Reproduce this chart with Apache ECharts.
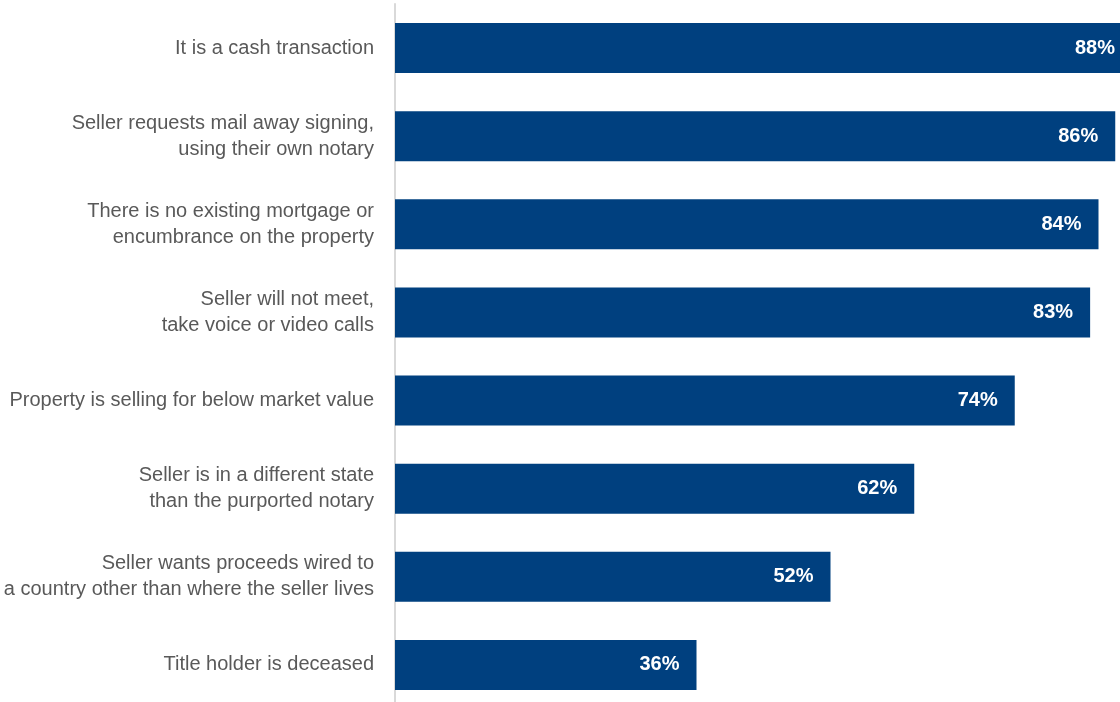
<!DOCTYPE html>
<html>
<head>
<meta charset="utf-8">
<script src="https://cdn.jsdelivr.net/npm/echarts@6/dist/echarts.min.js"></script>
<style>
  html, body { margin: 0; padding: 0; background: #ffffff; }
  #chart { width: 1120px; height: 702px; }
</style>
</head>
<body>
<div id="chart"></div>
<script>
// Survey responses: warning signs of seller impersonation fraud
const categories = [
  'It is a cash transaction',
  'Seller requests mail away signing,\nusing their own notary',
  'There is no existing mortgage or\nencumbrance on the property',
  'Seller will not meet,\ntake voice or video calls',
  'Property is selling for below market value',
  'Seller is in a different state\nthan the purported notary',
  'Seller wants proceeds wired to\na country other than where the seller lives',
  'Title holder is deceased'
];
const shares = [88, 86, 84, 83, 74, 62, 52, 36];

const textFont = '"Liberation Sans Narrow", "Arial Narrow", "Liberation Sans", Arial, sans-serif';

const chart = echarts.init(document.getElementById('chart'), null, { renderer: 'canvas' });
chart.setOption({
  animation: false,
  backgroundColor: '#ffffff',
  grid: {
    left: 395, top: 4, width: 837.5, height: 705,
    containLabel: false,
    outerBoundsMode: 'none'
  },
  xAxis: {
    type: 'value',
    min: 0,
    max: 100,
    show: false
  },
  yAxis: {
    type: 'category',
    inverse: true,
    data: categories,
    axisLine: { show: true, lineStyle: { color: '#d9d9d9', width: 2 } },
    axisTick: { show: false },
    axisLabel: {
      margin: 21,
      color: '#595959',
      fontFamily: textFont,
      fontSize: 20,
      lineHeight: 26,
      align: 'right'
    }
  },
  series: [{
    type: 'bar',
    data: shares,
    barWidth: 50,
    itemStyle: { color: '#00407f' },
    label: {
      show: true,
      position: 'insideRight',
      distance: 17,
      formatter: '{c}%',
      color: '#ffffff',
      fontFamily: textFont,
      fontWeight: 'bold',
      fontSize: 20
    }
  }]
});
</script>
</body>
</html>
